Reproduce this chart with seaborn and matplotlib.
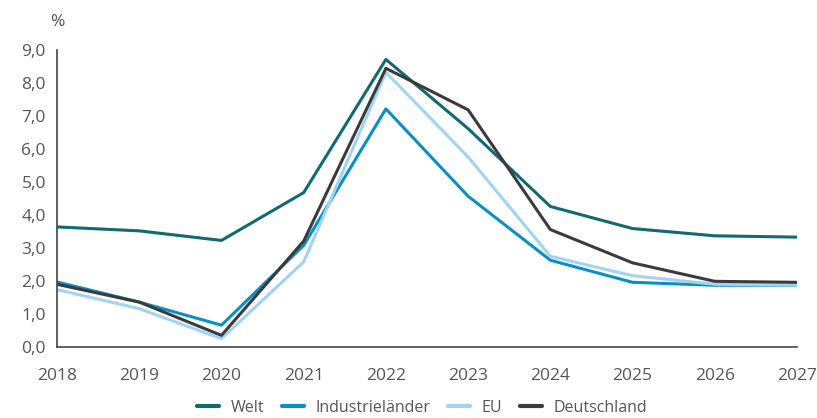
import pandas as pd
import matplotlib
matplotlib.use("Agg")
from matplotlib import pyplot as plt
from matplotlib.ticker import FuncFormatter
import seaborn as sns

years = [2018, 2019, 2020, 2021, 2022, 2023, 2024, 2025, 2026, 2027]
welt = [3.64, 3.52, 3.23, 4.68, 8.72, 6.62, 4.26, 3.59, 3.37, 3.33]
industrielaender = [1.97, 1.36, 0.66, 3.08, 7.22, 4.57, 2.63, 1.96, 1.87, 1.87]
eu = [1.74, 1.16, 0.25, 2.58, 8.33, 5.76, 2.75, 2.16, 1.90, 1.87]
deutschland = [1.90, 1.36, 0.35, 3.21, 8.45, 7.19, 3.56, 2.55, 1.99, 1.96]

series = {"Welt": welt, "Industrieländer": industrielaender, "EU": eu, "Deutschland": deutschland}
colors = ["#0f6a72", "#0a8fc4", "#9fd4f2", "#3b3b3b"]

rows = []
for name, vals in series.items():
    for y, v in zip(years, vals):
        rows.append({"Jahr": y, "Wert": v, "Reihe": name})
df = pd.DataFrame(rows)

sns.set_style("white")
plt.rcParams["font.family"] = ["Open Sans", "DejaVu Sans"]

fig = plt.figure(figsize=(8.17, 4.18), dpi=100)
ax = fig.add_axes([0.0698, 0.170, 0.9057, 0.710])

sns.lineplot(data=df, x="Jahr", y="Wert", hue="Reihe", palette=colors, linewidth=2.2, ax=ax)

ax.set_xlim(2018, 2027)
ax.set_ylim(0, 9)
ax.set_xticks(years)
ax.set_yticks(range(0, 10))
ax.yaxis.set_major_formatter(FuncFormatter(lambda v, p: f"{v:.1f}".replace(".", ",")))
ax.set_xlabel("")
ax.set_ylabel("")

for s in ["top", "right"]:
    ax.spines[s].set_visible(False)
for s in ["left", "bottom"]:
    ax.spines[s].set_color("#444444")
    ax.spines[s].set_linewidth(1.2)
ax.tick_params(axis="both", direction="out", length=5, width=1.2, color="#444444",
               labelsize=12.5, labelcolor="#555555")
ax.tick_params(axis="x", pad=10)
ax.tick_params(axis="y", pad=3)

fig.text(50 / 817, 1 - 22 / 418, "%", fontsize=12.5, color="#555555", ha="left", va="center")

leg = ax.legend(loc="center", bbox_to_anchor=(0.493, -0.205), ncol=4, frameon=False,
                fontsize=11.5, handlelength=1.4, columnspacing=1.1, handletextpad=0.7)
for t in leg.get_texts():
    t.set_color("#555555")
for h in leg.get_lines():
    h.set_linewidth(3)

fig.savefig("out.png", dpi=100)
